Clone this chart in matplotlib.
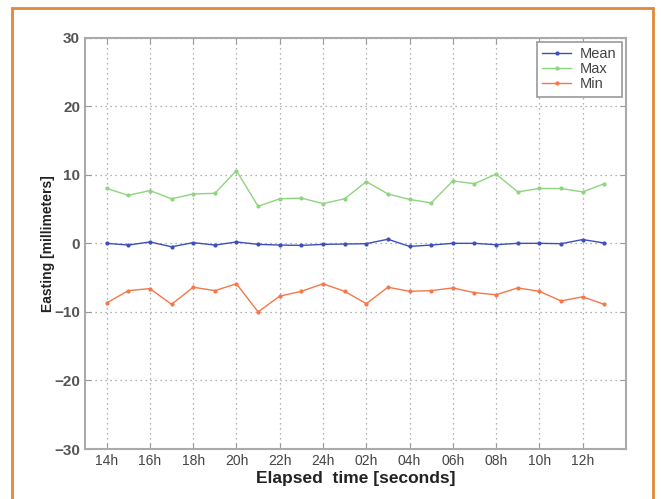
import matplotlib
matplotlib.use("Agg")
import matplotlib.pyplot as plt
from matplotlib.patches import Rectangle
import numpy as np

hours = ["14h", "15h", "16h", "17h", "18h", "19h", "20h", "21h", "22h", "23h", "24h", "01h",
         "02h", "03h", "04h", "05h", "06h", "07h", "08h", "09h", "10h", "11h", "12h", "13h"]
mean_mm = [0.0, -0.25, 0.2, -0.5, 0.1, -0.25, 0.2, -0.15, -0.25, -0.3, -0.15, -0.1,
           -0.05, 0.6, -0.45, -0.25, 0.0, 0.0, -0.2, 0.0, 0.0, -0.05, 0.55, 0.05]
max_mm = [8.0, 7.0, 7.7, 6.5, 7.2, 7.3, 10.6, 5.4, 6.5, 6.6, 5.8, 6.5,
          9.0, 7.2, 6.4, 5.9, 9.1, 8.7, 10.1, 7.5, 8.0, 8.0, 7.5, 8.7]
min_mm = [-8.7, -6.9, -6.6, -8.9, -6.4, -6.9, -5.9, -10.0, -7.7, -7.0, -5.9, -7.0,
          -8.8, -6.4, -7.0, -6.9, -6.5, -7.2, -7.5, -6.5, -7.0, -8.4, -7.8, -8.9]

plt.rcParams["font.family"] = ["Liberation Sans", "DejaVu Sans"]

fig = plt.figure(figsize=(6.61, 4.99), dpi=100)
fig.patch.set_facecolor("white")
ax = fig.add_axes([0.1286, 0.1002, 0.8184, 0.8243])

x = np.arange(len(hours))
ax.plot(x, mean_mm, color="#3d4fb8", lw=1, marker=".", ms=4, label="Mean")
ax.plot(x, max_mm, color="#8fd47e", lw=1, marker=".", ms=4, label="Max")
ax.plot(x, min_mm, color="#f5774a", lw=1, marker=".", ms=4, label="Min")

ax.set_xlim(-1, 24)
ax.set_ylim(-30, 30)
ax.set_yticks(np.arange(-30, 31, 10))
ax.set_xticks(x[::2])
ax.set_xticklabels(hours[::2])

ax.grid(True, linestyle=(0, (1, 3)), color="#999999", lw=0.9)
for s in ax.spines.values():
    s.set_color("#aaaaaa")
    s.set_linewidth(1.5)
ax.tick_params(direction="in", top=True, right=True, length=4, color="#999999",
               labelcolor="#444444", labelsize=10)
for lab in ax.get_yticklabels():
    lab.set_fontsize(11)
    lab.set_fontweight("bold")
    lab.set_color("#555555")

ax.set_xlabel("Elapsed  time [seconds]", fontsize=12.5, fontweight="bold", color="#222222", labelpad=2)
ax.set_ylabel("Easting [millimeters]", fontsize=10, fontweight="bold", color="#222222")
ax.yaxis.set_label_coords(-0.056, 0.5)

leg = ax.legend(loc="upper right", fontsize=10.5, fancybox=False, framealpha=1,
                edgecolor="#999999", handlelength=2.0, handletextpad=0.6,
                borderaxespad=0.3, labelspacing=0.08, borderpad=0.35)
leg.get_frame().set_linewidth(1.2)
for t in leg.get_texts():
    t.set_color("#444444")

# orange frame around the figure
fig.patches.append(Rectangle((0.0175, -0.05), 0.97, 1.034, transform=fig.transFigure,
                             fill=False, edgecolor="#e0873a", lw=2))

fig.savefig("out.png", dpi=100)
